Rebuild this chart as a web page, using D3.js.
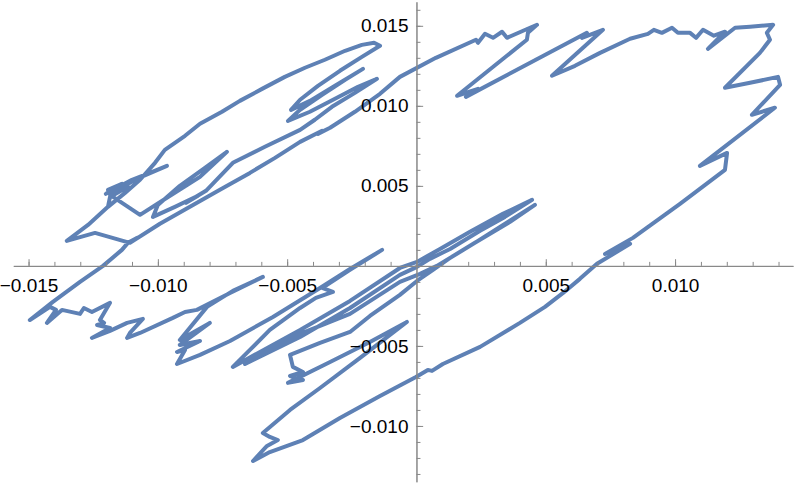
<!DOCTYPE html>
<html><head><meta charset="utf-8">
<script src="https://cdn.jsdelivr.net/npm/d3@7"></script>
<style>body{margin:0;background:#fff}svg{display:block}</style>
</head><body>
<svg id="c" width="798" height="486"></svg>
<script>
// Parametric trajectory, split in consecutive pieces (closed loop)
const rightLoopX = [-0.00632,-0.00567,-0.00439,-0.00296,-0.00141,-0.00002,0.00044,0.00060,0.00102,0.00246,0.00400,0.00497,0.00567,0.00632,0.00698,0.00826,0.00729,0.00837,0.01019,0.01193,0.01201,0.01096,0.01386,0.01297,0.01406,0.01398,0.01290,0.01193,0.01328,0.01367,0.01355,0.01379];
const rightLoopY = [-0.01219,-0.01163,-0.01088,-0.00950,-0.00813,-0.00694,-0.00650,-0.00656,-0.00613,-0.00506,-0.00356,-0.00256,-0.00169,-0.00081,0.00013,0.00138,0.00075,0.00175,0.00388,0.00600,0.00706,0.00625,0.00988,0.00944,0.01131,0.01181,0.01144,0.01113,0.01331,0.01413,0.01456,0.01506];
const topX = [0.01290,0.01232,0.01127,0.01193,0.01150,0.01108,0.01081,0.01058,0.01011,0.00988,0.00949,0.00918,0.00895,0.00826,0.00710,0.00613,0.00524,0.00721,0.00640,0.00659,0.00191,0.00238,0.00157,0.00427,0.00431,0.00466,0.00439,0.00350,0.00331,0.00296,0.00265,0.00238,0.00230,0.00075,-0.00064];
const topY = [0.01494,0.01488,0.01356,0.01463,0.01438,0.01475,0.01425,0.01456,0.01456,0.01488,0.01456,0.01475,0.01450,0.01419,0.01331,0.01250,0.01188,0.01475,0.01425,0.01456,0.01056,0.01106,0.01063,0.01413,0.01456,0.01506,0.01488,0.01425,0.01463,0.01425,0.01450,0.01394,0.01413,0.01300,0.01181];
const upperLeftX = [-0.00141,-0.00238,-0.00334,-0.00381,-0.00365,-0.00450,-0.00547,-0.00644,-0.00760,-0.00876,-0.00992,-0.01108,-0.01243,-0.01352,-0.01270,-0.01193,-0.01185,-0.01116,-0.01193,-0.01139,-0.01201,-0.01100,-0.01031,-0.00965,-0.01089,-0.01185,-0.01069,-0.00953,-0.00837,-0.00733,-0.00818,-0.00915,-0.01000,-0.01019,-0.00934,-0.00845,-0.00891,-0.00814,-0.00710,-0.00586,-0.00450,-0.00393,-0.00327,-0.00238,-0.00153,-0.00226,-0.00315,-0.00412,-0.00497,-0.00450,-0.00365,-0.00276,-0.00207,-0.00315,-0.00412,-0.00485,-0.00450,-0.00381,-0.00296,-0.00211,-0.00141,-0.00164,-0.00211,-0.00276,-0.00354,-0.00431,-0.00509,-0.00597,-0.00683,-0.00752,-0.00837,-0.00895,-0.00973,-0.01011,-0.01069,-0.01127,-0.01193,-0.01270,-0.01352,-0.01243,-0.01108,-0.01081,-0.01116,-0.01139,-0.01212,-0.01301,-0.01406,-0.01495];
const upperLeftY = [0.01075,0.00963,0.00863,0.00825,0.00844,0.00775,0.00675,0.00581,0.00475,0.00369,0.00263,0.00144,0.00206,0.00156,0.00256,0.00369,0.00431,0.00494,0.00475,0.00513,0.00450,0.00538,0.00581,0.00625,0.00538,0.00444,0.00319,0.00438,0.00556,0.00713,0.00613,0.00500,0.00381,0.00306,0.00369,0.00438,0.00394,0.00469,0.00644,0.00744,0.00850,0.00913,0.00994,0.01081,0.01169,0.01119,0.01044,0.00963,0.00906,0.00975,0.01069,0.01163,0.01231,0.01125,0.01031,0.00975,0.01038,0.01125,0.01219,0.01306,0.01375,0.01394,0.01381,0.01344,0.01288,0.01238,0.01181,0.01106,0.01031,0.00963,0.00888,0.00813,0.00725,0.00644,0.00538,0.00456,0.00369,0.00256,0.00156,0.00206,0.00144,0.00175,0.00144,0.00100,0.00000,-0.00100,-0.00225,-0.00338];
const lowerLeftX = [-0.01417,-0.01394,-0.01429,-0.01371,-0.01301,-0.01286,-0.01255,-0.01185,-0.01224,-0.01208,-0.01235,-0.01185,-0.01255,-0.01185,-0.01119,-0.01058,-0.01108,-0.01119,-0.01069,-0.00942,-0.00895,-0.00849,-0.00721,-0.00594,-0.00710,-0.00810,-0.00915,-0.00799,-0.00915,-0.00837,-0.00926,-0.00895,-0.00926,-0.00837,-0.00721,-0.00555,-0.00373,-0.00257,-0.00133,-0.00257,-0.00365,-0.00323,-0.00389,-0.00450,-0.00567,-0.00644,-0.00710];
const lowerLeftY = [-0.00256,-0.00275,-0.00356,-0.00275,-0.00300,-0.00263,-0.00288,-0.00231,-0.00338,-0.00356,-0.00369,-0.00388,-0.00450,-0.00406,-0.00356,-0.00331,-0.00419,-0.00450,-0.00419,-0.00325,-0.00288,-0.00275,-0.00169,-0.00069,-0.00156,-0.00256,-0.00463,-0.00356,-0.00494,-0.00469,-0.00538,-0.00525,-0.00613,-0.00556,-0.00469,-0.00319,-0.00138,-0.00019,0.00100,-0.00025,-0.00138,-0.00163,-0.00200,-0.00263,-0.00400,-0.00525,-0.00631];
const centerX = [-0.00450,-0.00257,-0.00064,0.00002,0.00091,0.00207,0.00334,0.00447,0.00342,0.00246,0.00130,0.00052,0.00002,-0.00064,-0.00257,-0.00450,-0.00663,-0.00450,-0.00257,-0.00064,0.00014,0.00079,0.00207,0.00323,0.00458,0.00362,0.00226,0.00130,0.00064,0.00002,-0.00064,-0.00180,-0.00257,-0.00373,-0.00489,-0.00478,-0.00439,-0.00489,-0.00439,-0.00497,-0.00334,-0.00180,-0.00037,-0.00218,-0.00373,-0.00489,-0.00594,-0.00567,-0.00536,-0.00578];
const centerY = [-0.00400,-0.00219,-0.00013,0.00025,0.00106,0.00213,0.00325,0.00413,0.00306,0.00219,0.00106,0.00044,-0.00006,-0.00056,-0.00263,-0.00444,-0.00613,-0.00425,-0.00300,-0.00100,-0.00050,0.00000,0.00125,0.00244,0.00381,0.00275,0.00144,0.00050,-0.00025,-0.00094,-0.00181,-0.00313,-0.00413,-0.00481,-0.00556,-0.00631,-0.00663,-0.00688,-0.00713,-0.00731,-0.00600,-0.00475,-0.00350,-0.00575,-0.00763,-0.00900,-0.01044,-0.01069,-0.01088,-0.01125];

const xDomain = [-0.01559, 0.01456];
const yDomain = [-0.01349, 0.0165];
const xMajorTicks = [-0.015, -0.010, -0.005, 0.005, 0.010];
const xTickLabels = ["\u22120.015", "\u22120.010", "\u22120.005", "0.005", "0.010"];
const yMajorTicks = [0.015, 0.010, 0.005, -0.005, -0.010];
const yTickLabels = ["0.015", "0.010", "0.005", "\u22120.005", "\u22120.010"];
const xMinorTicks = d3.range(-15, 15).map(k => k / 1000);
const yMinorTicks = d3.range(-13, 17).map(k => k / 1000);

const x = d3.scaleLinear().domain(xDomain).range([13.3, 793]);
const y = d3.scaleLinear().domain(yDomain).range([481.8, 1.8]);

const svg = d3.select('#c');
const allX = [].concat(rightLoopX, topX, upperLeftX, lowerLeftX, centerX);
const allY = [].concat(rightLoopY, topY, upperLeftY, lowerLeftY, centerY);
const pts = allX.map((v, i) => [v, allY[i]]);
pts.push(pts[0]);

svg.append('path').datum(pts)
  .attr('d', d3.line().x(d => x(d[0])).y(d => y(d[1])))
  .attr('fill', 'none').attr('stroke', '#5E81B5').attr('stroke-width', 4)
  .attr('stroke-linejoin', 'round').attr('stroke-linecap', 'round');

const axisColor = '#888888';
const font = '"Liberation Sans", Arial, Helvetica, sans-serif';

function styleAxis(g) {
  g.selectAll('.domain').attr('stroke', axisColor).attr('stroke-width', 1);
  g.selectAll('.tick line').attr('stroke', axisColor).attr('stroke-width', 1);
  g.selectAll('.tick text').attr('fill', '#000').style('font-family', font).style('font-size', '19px');
}

const gx = svg.append('g').attr('transform', `translate(0,${y(0)})`);
gx.append('g').call(d3.axisBottom(x).tickValues(xMinorTicks).tickSize(-4).tickSizeOuter(0).tickFormat('')).call(styleAxis);
gx.append('g').call(d3.axisBottom(x).tickValues(xMajorTicks).tickSize(-6.7).tickSizeOuter(0).tickPadding(13)
  .tickFormat((d, i) => xTickLabels[i])).call(styleAxis);

const gy = svg.append('g').attr('transform', `translate(${x(0)},0)`);
gy.append('g').call(d3.axisLeft(y).tickValues(yMinorTicks).tickSize(-4).tickSizeOuter(0).tickFormat('')).call(styleAxis);
gy.append('g').call(d3.axisLeft(y).tickValues(yMajorTicks).tickSize(-6.7).tickSizeOuter(0).tickPadding(8)
  .tickFormat((d, i) => yTickLabels[i])).call(styleAxis);
</script>
</body></html>
